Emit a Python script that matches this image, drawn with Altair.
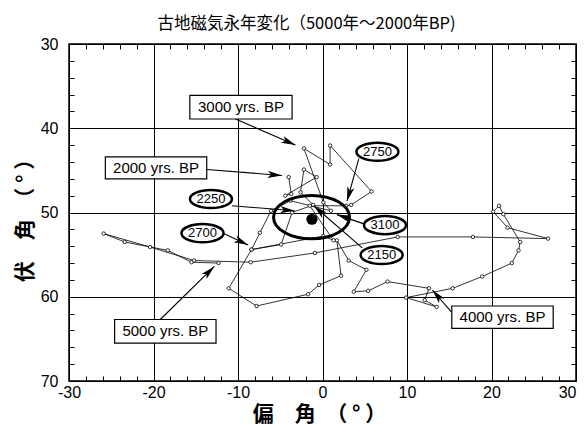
import math
import altair as alt
import pandas as pd

# ---- path of the secular variation (偏角 = declination, 伏角 = inclination) ----
decl = [-12.3, -15.5, -18.3, -23.4, -25.9, -20.4, -15.2, -8.5, -0.9, 8.9,
        17.8, 26.7, 21.9, 20.2, 20.9, 21.4, 23.4, 23.2, 22.4, 18.9,
        15.4, 9.9, 13.5, 12.1, 12.6, 7.7, 5.4, 3.7, 5.2, 3.1,
        1.7, 2.2, -0.4, -1.7, -7.8, -11.1, -8.4, -7.4, -6.1, -3.8,
        1.0, 0.1, -2.2, 0.9, 0.9, 5.8, 3.4, 2.8, -1.5, 1.3,
        0.1, -8.4, -4.9, -3.6, -1.1, -2.6, -2.2, -0.7, -4.4, -3.7, -4.0]
incl = [56.0, 55.9, 54.5, 53.5, 52.5, 54.1, 55.7, 55.9, 54.8, 52.9,
        52.9, 53.1, 51.8, 49.9, 49.2, 50.2, 53.5, 54.5, 56.0, 57.6,
        59.0, 60.1, 61.2, 60.4, 59.0, 58.2, 59.3, 59.4, 56.8, 55.7,
        53.3, 57.5, 58.6, 59.7, 61.1, 59.0, 54.4, 52.4, 49.8, 48.6,
        49.8, 48.8, 42.4, 44.3, 42.05, 47.5, 49.1, 49.2, 49.2, 53.3,
        52.8, 54.4, 53.8, 50.0, 49.1, 47.6, 44.9, 45.8, 48.0, 47.8, 45.8]

# ---- boxed labels ----
box_text = ["3000 yrs. BP", "2000 yrs. BP", "5000 yrs. BP", "4000 yrs. BP"]
box_x1 = [-15.7, -25.7, -24.6, 15.3]
box_x2 = [-3.6, -13.7, -12.6, 27.3]
box_y1 = [36.1, 43.4, 62.7, 61.1]
box_y2 = [38.9, 46.0, 65.5, 63.75]
box_ax0 = [-10.3, -13.7, -19.2, 15.3]
box_ay0 = [38.9, 44.9, 62.7, 61.85]
box_ax1 = [-3.2, -4.8, -12.8, 13.0]
box_ay1 = [42.0, 45.6, 56.4, 59.2]

# ---- oval labels ----
ell_text = ["2250", "2700", "2750", "3100", "2150"]
ell_x = [-13.2, -14.2, 6.5, 7.4, 7.0]
ell_y = [48.4, 52.45, 42.8, 51.5, 55.05]
ell_ax0 = [-10.7, -11.7, 4.3, 4.9, 4.7]
ell_ay0 = [49.2, 52.5, 43.6, 51.35, 54.2]
ell_ax1 = [-3.3, -8.8, 2.9, 1.7, -1.05]
ell_ay1 = [49.8, 53.85, 48.65, 50.25, 49.2]

# ---- big ring and mean direction ----
ring_x, ring_y = [-1.3], [50.55]
dot_x, dot_y = [-1.25], [50.8]

W, H = 507, 337
XD, YD = [-30, 30], [30, 70]
PXX, PXY = W / (XD[1] - XD[0]), H / (YD[1] - YD[0])

path_df = pd.DataFrame({"x": decl, "y": incl, "i": list(range(len(decl)))})
box_df = pd.DataFrame({"t": box_text, "x1": box_x1, "x2": box_x2, "y1": box_y1, "y2": box_y2})
box_df["xc"] = (box_df.x1 + box_df.x2) / 2
box_df["yc"] = (box_df.y1 + box_df.y2) / 2
ell_df = pd.DataFrame({"t": ell_text, "x": ell_x, "y": ell_y})

ax0 = box_ax0 + ell_ax0
ay0 = box_ay0 + ell_ay0
ax1 = box_ax1 + ell_ax1
ay1 = box_ay1 + ell_ay1
angs = []
for a, b, c, d in zip(ax0, ay0, ax1, ay1):
    dx = (c - a) * PXX
    dy = (d - b) * PXY
    angs.append(math.degrees(math.atan2(dx, -dy)) % 360)
arr_df = pd.DataFrame({"x0": ax0, "y0": ay0, "x1": ax1, "y1": ay1, "ang": angs})
ring_df = pd.DataFrame({"x": ring_x, "y": ring_y})
dot_df = pd.DataFrame({"x": dot_x, "y": dot_y})


def ellipse_path(b, k=0.5523):
    return (f"M-1,0 C-1,{-b*k:.4f} {-k:.4f},{-b:.4f} 0,{-b:.4f} "
            f"C{k:.4f},{-b:.4f} 1,{-b*k:.4f} 1,0 "
            f"C1,{b*k:.4f} {k:.4f},{b:.4f} 0,{b:.4f} "
            f"C{-k:.4f},{b:.4f} -1,{b*k:.4f} -1,0 Z")


ARROW = "M0,0 L0.6,2.4 L0,1.8 L-0.6,2.4 Z"
NUMFONT = "Liberation Sans"
CJK = "Noto Sans CJK JP"

xs = alt.Scale(domain=XD, nice=False, zero=False)
ys = alt.Scale(domain=YD, nice=False, zero=False, reverse=True)

x_main = alt.Axis(orient="bottom", values=list(range(-30, 31, 10)), grid=True,
                  gridColor="black", gridWidth=1, gridOpacity=1, ticks=False,
                  domain=False, labelFont=NUMFONT, labelFontSize=16,
                  labelColor="black", labelPadding=3, labelFlush=False,
                  labelExpr="'' + datum.value",
                  labelAlign={"condition": {"test": "datum.value >= 30", "value": "right"},
                              "value": "center"},
                  title="偏　角　（  °  ）", titleFont=CJK, titleFontSize=21,
                  titleFontWeight="bold", titleColor="black", titleX=250,
                  titleY=33, titleAlign="center", titleBaseline="middle")
y_main = alt.Axis(orient="left", values=list(range(30, 71, 10)), grid=True,
                  gridColor="black", gridWidth=1, gridOpacity=1, ticks=False,
                  domain=False, labelFont=NUMFONT, labelFontSize=16,
                  labelColor="black", labelPadding=11, labelFlush=False,
                  labelExpr="'' + datum.value",
                  title="伏　角　（  °  ）", titleFont=CJK, titleFontSize=21,
                  titleFontWeight="bold", titleColor="black", titleX=-44,
                  titleY=171, titleAngle=270, titleAlign="center",
                  titleBaseline="middle")


def tick_axis(orient, vals):
    return alt.Axis(orient=orient, values=vals, labels=False, domain=False,
                    grid=False, ticks=True, tickSize=5, tickColor="black",
                    tickWidth=1, offset=-5, title=None)


xt = list(range(-30, 31, 2))
yt = list(range(30, 71, 2))

path = alt.Chart(path_df).mark_line(color="black", strokeWidth=0.8).encode(
    x=alt.X("x:Q", scale=xs, axis=x_main),
    y=alt.Y("y:Q", scale=ys, axis=y_main),
    order="i:Q")

pts = alt.Chart(path_df).mark_point(shape="circle", size=12, filled=True,
                                    fill="white", stroke="black",
                                    strokeWidth=0.8, opacity=1).encode(
    x=alt.X("x:Q", scale=xs, axis=tick_axis("top", xt)),
    y=alt.Y("y:Q", scale=ys, axis=tick_axis("right", yt)))

ring = alt.Chart(ring_df).mark_point(shape=ellipse_path(0.57), size=5776,
                                     filled=False, stroke="black",
                                     strokeWidth=3, opacity=1).encode(
    x=alt.X("x:Q", scale=xs, axis=tick_axis("bottom", xt)),
    y=alt.Y("y:Q", scale=ys, axis=tick_axis("left", yt)))

dot = alt.Chart(dot_df).mark_point(shape="circle", size=125, filled=True,
                                   color="black", opacity=1).encode(
    x=alt.X("x:Q", scale=xs, axis=None), y=alt.Y("y:Q", scale=ys, axis=None))

arr_lines = alt.Chart(arr_df).mark_rule(color="black", strokeWidth=1.1).encode(
    x=alt.X("x0:Q", scale=xs, axis=None), y=alt.Y("y0:Q", scale=ys, axis=None),
    x2="x1:Q", y2="y1:Q")

arr_heads = alt.Chart(arr_df).mark_point(shape=ARROW, size=144, filled=True,
                                         color="black", opacity=1).encode(
    x=alt.X("x1:Q", scale=xs, axis=None), y=alt.Y("y1:Q", scale=ys, axis=None),
    angle=alt.Angle("ang:Q", scale=None))

boxes = alt.Chart(box_df).mark_rect(fill="white", stroke="black",
                                    strokeWidth=1.2).encode(
    x=alt.X("x1:Q", scale=xs, axis=None), x2="x2:Q",
    y=alt.Y("y1:Q", scale=ys, axis=None), y2="y2:Q")

box_txt = alt.Chart(box_df).mark_text(font=NUMFONT, fontSize=15, color="black",
                                      align="center", baseline="middle").encode(
    x=alt.X("xc:Q", scale=xs, axis=None), y=alt.Y("yc:Q", scale=ys, axis=None),
    text="t:N")

ovals = alt.Chart(ell_df).mark_point(shape=ellipse_path(0.43), size=1764,
                                     filled=True, fill="white", stroke="black",
                                     strokeWidth=2.5, opacity=1).encode(
    x=alt.X("x:Q", scale=xs, axis=None), y=alt.Y("y:Q", scale=ys, axis=None))

oval_txt = alt.Chart(ell_df).mark_text(font=NUMFONT, fontSize=13, color="black",
                                       align="center", baseline="middle").encode(
    x=alt.X("x:Q", scale=xs, axis=None), y=alt.Y("y:Q", scale=ys, axis=None),
    text="t:N")

chart = alt.layer(path, pts, ring, dot, arr_lines, arr_heads, boxes, box_txt,
                  ovals, oval_txt).resolve_axis(
    x="independent", y="independent").properties(
    width=W, height=H,
    autosize=alt.AutoSizeParams(type="none"),
    padding={"left": 61, "top": 36, "right": 3, "bottom": 46},
    background="white",
    title=alt.TitleParams(text="古地磁気永年変化（5000年～2000年BP)", font=CJK,
                          fontSize=16.5, fontWeight="normal", color="black",
                          anchor="middle", dx=-16, offset=4),
).configure_view(stroke="black", strokeWidth=1.5)

chart.save("out.html", embed_options={"renderer": "svg", "actions": False})
